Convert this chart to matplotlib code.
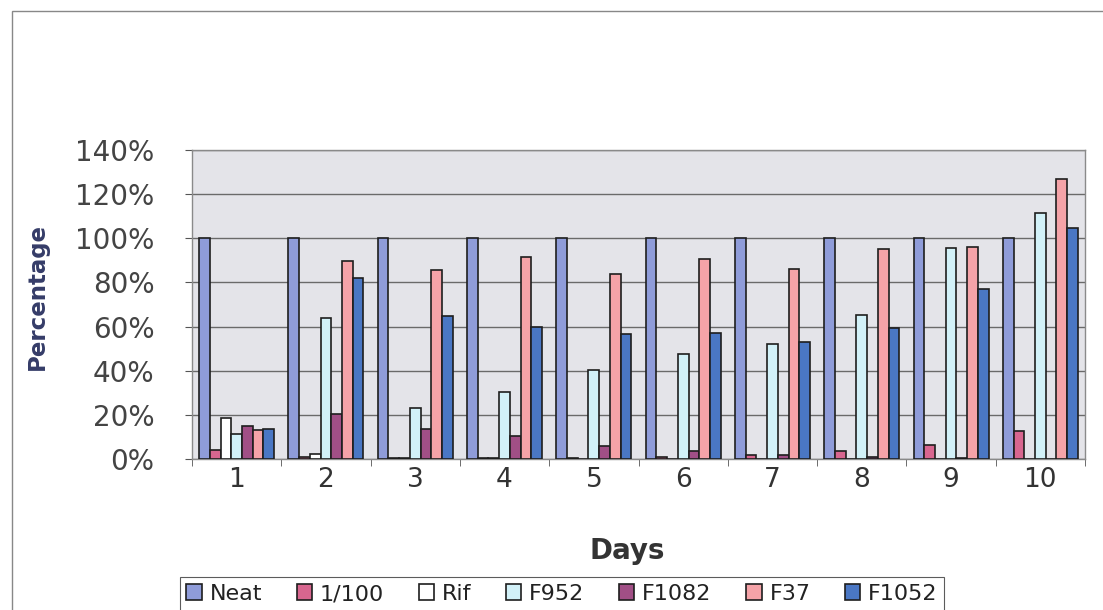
import matplotlib
matplotlib.use("Agg")
import matplotlib.pyplot as plt
import numpy as np
from matplotlib.patches import Rectangle
from matplotlib.ticker import FixedLocator, PercentFormatter

days = ["1", "2", "3", "4", "5", "6", "7", "8", "9", "10"]
series_names = ["Neat", "1/100", "Rif", "F952", "F1082", "F37", "F1052"]

neat = [100, 100, 100, 100, 100, 100, 100, 100, 100, 100]
dil_100 = [4.1, 1.0, 0.3, 0.3, 0.3, 1.0, 2.0, 3.5, 6.5, 12.6]
rif = [18.6, 2.3, 0.3, 0.3, 0.0, 0.0, 0.0, 0.0, 0.0, 0.0]
f952 = [11.4, 63.8, 23.0, 30.3, 40.2, 47.4, 52.3, 65.2, 95.6, 111.4]
f1082 = [15.0, 20.5, 13.5, 10.6, 6.0, 3.8, 2.0, 1.0, 0.3, 0.0]
f37 = [13.2, 89.7, 85.6, 91.7, 84.0, 90.5, 86.0, 95.2, 96.2, 126.8]
f1052 = [13.8, 81.8, 64.7, 59.8, 56.8, 57.3, 53.2, 59.5, 76.8, 104.5]

series = [neat, dil_100, rif, f952, f1082, f37, f1052]
colors = ["#8F9CD9", "#D8668F", "#FFFFFF", "#D2F1F8", "#A14F86", "#F5A3A8", "#4A77C4"]

plt.rcParams["font.family"] = ["DejaVu Sans"]

W, H = 1103, 610
fig = plt.figure(figsize=(W / 100, H / 100), dpi=100)
ax = fig.add_axes([192 / W, 1 - 459 / H, (1085 - 192) / W, (459 - 150) / H])
ax.set_facecolor("#E4E4E9")

x = np.arange(len(days))
w = 0.12
for j, (name, vals, c) in enumerate(zip(series_names, series, colors)):
    ax.bar(x + (j - 3) * w, vals, width=w, color=c, edgecolor="#1E1E1E",
           linewidth=1.2, label=name, zorder=3)

ax.set_xlim(-0.5, len(days) - 0.5)
ax.set_ylim(0, 140)
ax.set_yticks(np.arange(0, 141, 20))
ax.yaxis.set_major_formatter(PercentFormatter(decimals=0))
ax.grid(axis="y", color="#6A6A6A", linewidth=1.0, zorder=1)
ax.set_xticks(x)
ax.set_xticklabels(days)
ax.xaxis.set_minor_locator(FixedLocator(np.arange(-0.5, len(days), 1.0)))
ax.tick_params(axis="x", which="major", length=0, pad=6, labelsize=19, labelcolor="#333333")
ax.tick_params(axis="x", which="minor", length=5, color="#555555")
ax.tick_params(axis="y", length=5, pad=22, labelsize=20, labelcolor="#444444", color="#555555")
for s in ax.spines.values():
    s.set_color("#8A8A8A")
    s.set_linewidth(1.0)

fig.text(627 / W, 1 - 551 / H, "Days", ha="center", va="center",
         fontsize=20, fontweight="bold", color="#333333")
fig.text(37 / W, 1 - 297 / H, "Percentage", ha="center", va="center",
         rotation=90, fontsize=16.5, fontweight="bold", color="#353C68")

leg = fig.legend(loc="center", bbox_to_anchor=(562 / W, 1 - 594 / H), ncol=7,
                 fontsize=16, frameon=True, fancybox=False, handlelength=0.7,
                 handleheight=0.7, handletextpad=0.35, columnspacing=1.55,
                 borderpad=0.3, labelcolor="#222222")
leg.get_frame().set_edgecolor("#333333")
leg.get_frame().set_linewidth(0.8)

# outer chart border (left and top edges visible in the scan)
fig.patches.append(Rectangle((12 / W, -0.05), 1.2, 1 - 11 / H + 0.05,
                             transform=fig.transFigure, fill=False,
                             edgecolor="#888888", linewidth=1.0))

fig.savefig("out.png", dpi=100)
